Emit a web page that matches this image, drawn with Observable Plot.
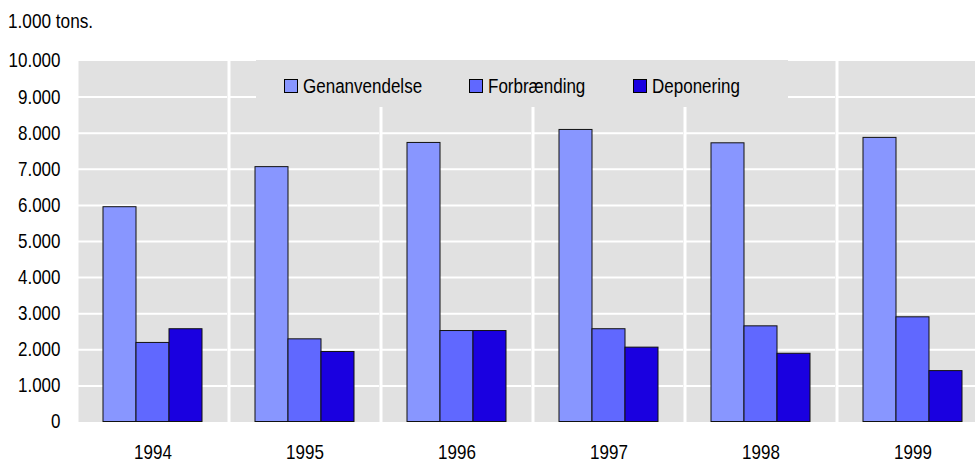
<!DOCTYPE html>
<html>
<head>
<meta charset="utf-8">
<script src="https://cdn.jsdelivr.net/npm/d3@7"></script>
<script src="https://cdn.jsdelivr.net/npm/@observablehq/plot@0.6"></script>
<style>
  html, body { margin: 0; padding: 0; background: #fff; overflow: hidden; }
  #wrap { position: relative; width: 975px; height: 463px; overflow: hidden;
          font-family: "Liberation Sans", Arial, Helvetica, sans-serif; color: #000; }
  #title { position: absolute; left: 8px; top: 9px; font-size: 20px; line-height: 24px; white-space: nowrap;
           transform: scaleX(0.86); transform-origin: left center; }
  #chart { position: absolute; left: 0; top: 0; width: 990px; }
  #chart svg { max-width: none !important; }
  #legend { position: absolute; left: 256px; top: 59.5px; width: 532px; height: 47px; background: #e1e1e1; }
  .item { position: absolute; top: 19.5px; height: 14px; display: flex; align-items: center; font-size: 20px; line-height: 20px; white-space: nowrap; }
  .sw { display: inline-block; width: 12px; height: 12px; border: 1px solid #000; margin-right: 5px; flex: none; }
  .lt { display: inline-block; transform: scaleX(0.85); transform-origin: left center; }
</style>
</head>
<body>
<div id="wrap">
  <div id="chart"></div>
  <div id="title">1.000 tons.</div>
  <div id="legend"></div>
</div>
<script>
// ---- data ----
const years = ["1994", "1995", "1996", "1997", "1998", "1999"];
const series = ["Genanvendelse", "Forbrænding", "Deponering"];
const genanvendelse = [5950, 7060, 7730, 8090, 7720, 7870];
const forbraending  = [2190, 2290, 2520, 2570, 2650, 2900];
const deponering    = [2570, 1940, 2520, 2060, 1890, 1410];
const yTicks = [0, 1000, 2000, 3000, 4000, 5000, 6000, 7000, 8000, 9000, 10000];
const gridTicks = [1000, 2000, 3000, 4000, 5000, 6000, 7000, 8000, 9000];
const colors = ["#8896ff", "#6068ff", "#1a00e0"];

const valuesBySeries = [genanvendelse, forbraending, deponering];
const data = [];
years.forEach((yr, i) => {
  series.forEach((s, j) => data.push({year: yr, series: s, value: valuesBySeries[j][i]}));
});

const locale = d3.formatLocale({decimal: ",", thousands: ".", grouping: [3], currency: ["", " kr"]});
const fmt = locale.format(",d");

const fontFamily = getComputedStyle(document.getElementById("wrap")).fontFamily;

const chart = Plot.plot({
  width: 990,
  height: 463,
  marginTop: 60.5,
  marginBottom: 41.5,
  marginLeft: 78,
  marginRight: 2,
  style: {fontFamily, fontSize: "20px", background: "transparent", color: "#000", maxWidth: "none"},
  fx: {domain: years, paddingInner: 0.018, paddingOuter: 0, label: null, axis: null},
  x: {domain: series, paddingInner: 0, paddingOuter: 0.7, axis: null},
  y: {domain: [0, 10000], ticks: yTicks, tickFormat: fmt, tickSize: 0, tickPadding: 18, label: null, line: false},
  color: {domain: series, range: colors},
  marks: [
    Plot.frame({fill: "#e1e1e1", stroke: "none"}),
    Plot.gridY(gridTicks, {stroke: "#fff", strokeOpacity: 1, strokeWidth: 2}),
    Plot.barY(data, {fx: "year", x: "series", y: "value", fill: "series", stroke: "#111", strokeWidth: 1}),
    Plot.text(years, {fx: d => d, text: d => d, frameAnchor: "bottom", lineAnchor: "bottom", dy: 37, fontSize: 20, fill: "#000"})
  ]
});
chart.style.maxWidth = "none";
chart.style.width = "990px";
chart.style.height = "463px";
document.getElementById("chart").appendChild(chart);

// narrow the Helvetica-like text horizontally around each text anchor
chart.querySelectorAll("text").forEach(t => {
  const x = parseFloat(t.getAttribute("x")) || 0;
  const tr = t.getAttribute("transform") || "";
  t.setAttribute("transform", `${tr} translate(${x},0) scale(0.85,1) translate(${-x},0)`.trim());
});

// ---- legend (HTML overlay) ----
const legendX = [28.3, 213, 377.3];
const legend = document.getElementById("legend");
series.forEach((s, j) => {
  const it = document.createElement("div");
  it.className = "item";
  it.style.left = legendX[j] + "px";
  const sw = document.createElement("span");
  sw.className = "sw";
  sw.style.background = colors[j];
  const tx = document.createElement("span");
  tx.className = "lt";
  tx.textContent = s;
  it.appendChild(sw);
  it.appendChild(tx);
  legend.appendChild(it);
});
</script>
</body>
</html>
